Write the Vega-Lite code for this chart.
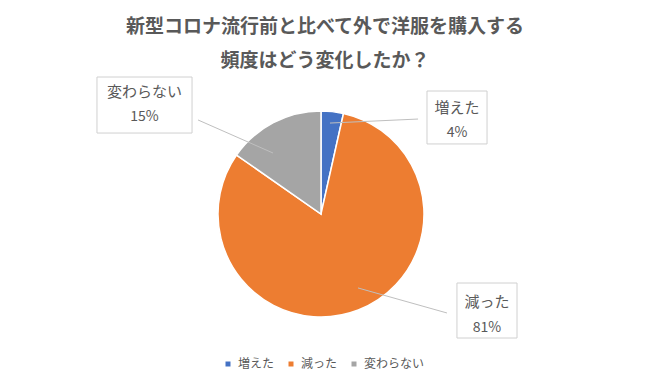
{
  "$schema": "https://vega.github.io/schema/vega-lite/v6.json",
  "width": 650,
  "height": 380,
  "padding": 0,
  "autosize": {"type": "none"},
  "background": "white",
  "title": {
    "text": ["新型コロナ流行前と比べて外で洋服を購入する", "頻度はどう変化したか？"],
    "anchor": "middle",
    "frame": "group",
    "orient": "top",
    "offset": -71,
    "fontSize": 19,
    "fontWeight": "bold",
    "font": "Noto Sans CJK JP",
    "color": "#595959",
    "lineHeight": 34
  },
  "data": {
    "values": [
      {"category": "増えた", "value": 3.5, "label": "4%", "order": 1},
      {"category": "減った", "value": 81.2, "label": "81%", "order": 2},
      {"category": "変わらない", "value": 15.3, "label": "15%", "order": 3}
    ]
  },
  "layer": [
    {
      "mark": {"type": "arc", "outerRadius": 103, "stroke": "white", "strokeWidth": 1.5},
      "encoding": {
        "x": {"datum": 0, "type": "quantitative", "scale": {"domain": [-3.1165, 3.1942], "nice": false, "zero": false}},
        "y": {"datum": 0, "type": "quantitative", "scale": {"domain": [-1.6117, 2.0777], "nice": false, "zero": false}},
        "theta": {"field": "value", "type": "quantitative", "stack": true},
        "order": {"field": "order", "type": "quantitative"},
        "color": {
          "field": "category",
          "type": "nominal",
          "sort": ["増えた", "減った", "変わらない"],
          "scale": {"domain": ["増えた", "減った", "変わらない"], "range": ["#4472C4", "#ED7D31", "#A5A5A5"]},
          "legend": {
            "orient": "none",
            "legendX": 222,
            "legendY": 358,
            "direction": "horizontal",
            "title": null,
            "symbolType": "square",
            "symbolSize": 25,
            "symbolStrokeWidth": 0,
            "labelFontSize": 12,
            "labelFont": "Noto Sans CJK JP",
            "labelColor": "#595959",
            "labelOffset": 4,
            "columnPadding": 10,
            "padding": 0
          }
        }
      }
    },
    {
      "transform": [{"filter": "datum.category === '増えた'"}],
      "layer": [
        {
          "mark": {"type": "rule", "color": "#BFBFBF", "strokeWidth": 1},
          "encoding": {
            "x": {"datum": 0.087, "type": "quantitative"},
            "y": {"datum": 0.883, "type": "quantitative"},
            "x2": {"datum": 0.942},
            "y2": {"datum": 0.922}
          }
        },
        {
          "mark": {"type": "rect", "fill": "white", "stroke": "#D0D0D0", "strokeWidth": 1},
          "encoding": {
            "x": {"datum": 1.029, "type": "quantitative"},
            "x2": {"datum": 1.612},
            "y": {"datum": 1.194, "type": "quantitative"},
            "y2": {"datum": 0.680}
          }
        },
        {
          "mark": {"type": "text", "fontSize": 15, "font": "Noto Sans CJK JP", "color": "#595959", "baseline": "middle", "align": "center"},
          "encoding": {
            "x": {"datum": 1.320, "type": "quantitative"},
            "y": {"datum": 1.029, "type": "quantitative"},
            "text": {"field": "category"}
          }
        },
        {
          "mark": {"type": "text", "fontSize": 14, "font": "Noto Sans CJK JP", "color": "#595959", "baseline": "middle", "align": "center"},
          "encoding": {
            "x": {"datum": 1.320, "type": "quantitative"},
            "y": {"datum": 0.786, "type": "quantitative"},
            "text": {"field": "label"}
          }
        }
      ]
    },
    {
      "transform": [{"filter": "datum.category === '減った'"}],
      "layer": [
        {
          "mark": {"type": "rule", "color": "#BFBFBF", "strokeWidth": 1},
          "encoding": {
            "x": {"datum": 0.359, "type": "quantitative"},
            "y": {"datum": -0.718, "type": "quantitative"},
            "x2": {"datum": 1.223},
            "y2": {"datum": -0.961}
          }
        },
        {
          "mark": {"type": "rect", "fill": "white", "stroke": "#D0D0D0", "strokeWidth": 1},
          "encoding": {
            "x": {"datum": 1.320, "type": "quantitative"},
            "x2": {"datum": 1.903},
            "y": {"datum": -0.670, "type": "quantitative"},
            "y2": {"datum": -1.204}
          }
        },
        {
          "mark": {"type": "text", "fontSize": 15, "font": "Noto Sans CJK JP", "color": "#595959", "baseline": "middle", "align": "center"},
          "encoding": {
            "x": {"datum": 1.612, "type": "quantitative"},
            "y": {"datum": -0.854, "type": "quantitative"},
            "text": {"field": "category"}
          }
        },
        {
          "mark": {"type": "text", "fontSize": 14, "font": "Noto Sans CJK JP", "color": "#595959", "baseline": "middle", "align": "center"},
          "encoding": {
            "x": {"datum": 1.612, "type": "quantitative"},
            "y": {"datum": -1.107, "type": "quantitative"},
            "text": {"field": "label"}
          }
        }
      ]
    },
    {
      "transform": [{"filter": "datum.category === '変わらない'"}],
      "layer": [
        {
          "mark": {"type": "rule", "color": "#BFBFBF", "strokeWidth": 1},
          "encoding": {
            "x": {"datum": -1.194, "type": "quantitative"},
            "y": {"datum": 0.913, "type": "quantitative"},
            "x2": {"datum": -0.466},
            "y2": {"datum": 0.592}
          }
        },
        {
          "mark": {"type": "rect", "fill": "white", "stroke": "#D0D0D0", "strokeWidth": 1},
          "encoding": {
            "x": {"datum": -2.175, "type": "quantitative"},
            "x2": {"datum": -1.252},
            "y": {"datum": 1.330, "type": "quantitative"},
            "y2": {"datum": 0.786}
          }
        },
        {
          "mark": {"type": "text", "fontSize": 15, "font": "Noto Sans CJK JP", "color": "#595959", "baseline": "middle", "align": "center"},
          "encoding": {
            "x": {"datum": -1.714, "type": "quantitative"},
            "y": {"datum": 1.184, "type": "quantitative"},
            "text": {"field": "category"}
          }
        },
        {
          "mark": {"type": "text", "fontSize": 14, "font": "Noto Sans CJK JP", "color": "#595959", "baseline": "middle", "align": "center"},
          "encoding": {
            "x": {"datum": -1.714, "type": "quantitative"},
            "y": {"datum": 0.942, "type": "quantitative"},
            "text": {"field": "label"}
          }
        }
      ]
    }
  ],
  "config": {
    "view": {"stroke": null},
    "axis": {"disable": true}
  }
}
